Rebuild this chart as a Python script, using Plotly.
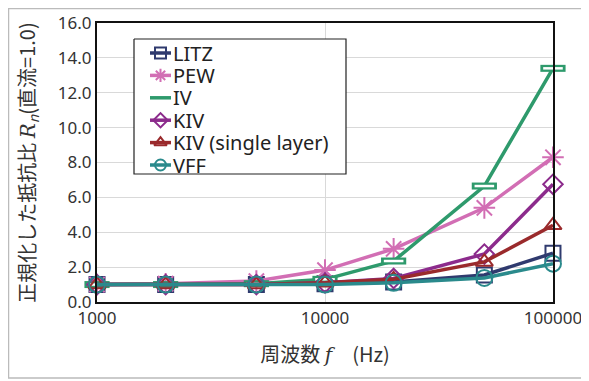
import plotly.graph_objects as go

freq = [1000, 2000, 5000, 10000, 20000, 50000, 100000]
litz = [1.0, 1.0, 1.0, 1.05, 1.15, 1.55, 2.8]
pew = [1.0, 1.05, 1.2, 1.83, 3.05, 5.4, 8.3]
iv = [1.0, 1.0, 1.05, 1.3, 2.35, 6.65, 13.4]
kiv = [1.0, 1.0, 1.0, 1.1, 1.35, 2.75, 6.75]
kiv_single = [1.0, 1.0, 1.0, 1.1, 1.3, 2.3, 4.4]
vff = [1.0, 1.0, 1.0, 1.0, 1.1, 1.38, 2.2]

names = ["LITZ", "PEW", "IV", "KIV", "KIV (single layer)", "VFF"]
values = [litz, pew, iv, kiv, kiv_single, vff]
colors = ["#2f3a6e", "#d26eb4", "#2e9a6c", "#8c2b8c", "#9a2a2c", "#2a8a8c"]
symbols = ["square-open", "asterisk-open", "line-ew-open", "diamond-open",
           "triangle-up-open", "circle-open"]
sizes = [15, 18, 18, 15, 15, 16]

# page offset: the html body has an 8px margin
OFF = 8
PW, PH = 589, 381
W, H = PW - OFF, PH - OFF
# plot area in page pixels
px0, px1, py0, py1 = 97, 553, 23, 302
ml, mt = px0 - OFF, py0 - OFF
mr, mb = PW - px1, PH - py1

fig = go.Figure()
for name, vals, color, sym, sz in zip(names, values, colors, symbols, sizes):
    is_bar = sym == "line-ew-open"
    fig.add_trace(go.Scatter(
        x=freq, y=vals, name=name, mode="lines+markers", showlegend=False,
        line=dict(color=color, width=3.5),
        marker=dict(symbol=sym, size=sz, color=color,
                    line=dict(color=color, width=7 if is_bar else 2)),
        cliponaxis=False,
    ))
    if is_bar:
        # hollow the bar marker (outlined rectangle look)
        fig.add_trace(go.Scatter(
            x=freq, y=vals, mode="markers", showlegend=False, hoverinfo="skip",
            marker=dict(symbol="line-ew-open", size=sz - 4, color="white",
                        line=dict(color="white", width=2.5)),
            cliponaxis=False,
        ))

# hand-built legend on an overlay axis measured in page pixels
lg_x0, lg_x1, lg_y0, lg_y1 = 134, 346, 39, 174
lg_row0, lg_step = 53, 22.4
fig.add_trace(go.Scatter(
    x=[lg_x0, lg_x1, lg_x1, lg_x0, lg_x0], y=[lg_y0, lg_y0, lg_y1, lg_y1, lg_y0],
    mode="lines", fill="toself", fillcolor="white", showlegend=False, hoverinfo="skip",
    line=dict(color="#222222", width=1.2), xaxis="x2", yaxis="y2", cliponaxis=False,
))
for i, (name, color, sym) in enumerate(zip(names, colors, symbols)):
    yy = lg_row0 + i * lg_step
    is_bar = sym == "line-ew-open"
    fig.add_trace(go.Scatter(
        x=[150, 171], y=[yy, yy], mode="lines", showlegend=False, hoverinfo="skip",
        xaxis="x2", yaxis="y2", line=dict(color=color, width=3.5), cliponaxis=False,
    ))
    if not is_bar:
        fig.add_trace(go.Scatter(
            x=[160.5], y=[yy], mode="markers", showlegend=False, hoverinfo="skip",
            xaxis="x2", yaxis="y2", cliponaxis=False,
            marker=dict(symbol=sym, size=11, color=color, line=dict(color=color, width=2)),
        ))
    fig.add_annotation(x=171, y=yy, xref="x2", yref="y2", text=name, showarrow=False,
                       xanchor="left", yanchor="middle",
                       font=dict(size=20, color="#222222", family="Noto Sans, sans-serif"))

fig.update_layout(
    width=W, height=H,
    margin=dict(l=ml, r=mr, t=mt, b=mb),
    paper_bgcolor="white", plot_bgcolor="white",
    font=dict(family="Noto Sans CJK JP, Noto Sans, sans-serif", color="#333333", size=17),
    showlegend=False,
    xaxis=dict(
        type="log", range=[2.9999, 5.0001],
        tickvals=[1000, 10000, 100000], ticktext=["1000", "10000", "100000"],
        showgrid=True, gridcolor="#d9d9d9", gridwidth=1,
        showline=True, linecolor="#111111", linewidth=2, mirror=True,
        ticks="", tickfont=dict(size=17, color="#333333", family="Noto Sans, sans-serif"),
        automargin=False,
        title=dict(text="周波数 <i style='font-family:DejaVu Serif'>f</i>\u3000(Hz)",
                   font=dict(size=20, color="#333333"), standoff=20),
        zeroline=False,
    ),
    yaxis=dict(
        range=[0, 16], dtick=2, tickformat=".1f",
        showgrid=True, gridcolor="#d9d9d9", gridwidth=1,
        showline=True, linecolor="#111111", linewidth=2, mirror=True,
        ticks="", tickfont=dict(size=17, color="#333333", family="Noto Sans, sans-serif"),
        automargin=False,
        title=dict(text="正規化した抵抗比 <i style='font-family:DejaVu Serif'>R</i><sub><i>n</i></sub>(直流=1.0)",
                   font=dict(size=20, color="#333333"), standoff=17),
        zeroline=False,
    ),
    xaxis2=dict(overlaying="x", range=[px0, px1], visible=False, anchor="y2"),
    yaxis2=dict(overlaying="y", range=[py1, py0], visible=False, anchor="x2"),
)

# outer frame of the chart (page px 3..585, 3..378)
pw, ph = px1 - px0, py1 - py0
fig.add_shape(type="rect", xref="paper", yref="paper",
              x0=(OFF + 0.5 - px0) / pw, x1=(585 - px0) / pw,
              y0=(py1 - 378) / ph, y1=(py1 - (OFF + 0.5)) / ph,
              line=dict(color="#bbbbbb", width=1.5), layer="below")

fig.write_html("out.html")
